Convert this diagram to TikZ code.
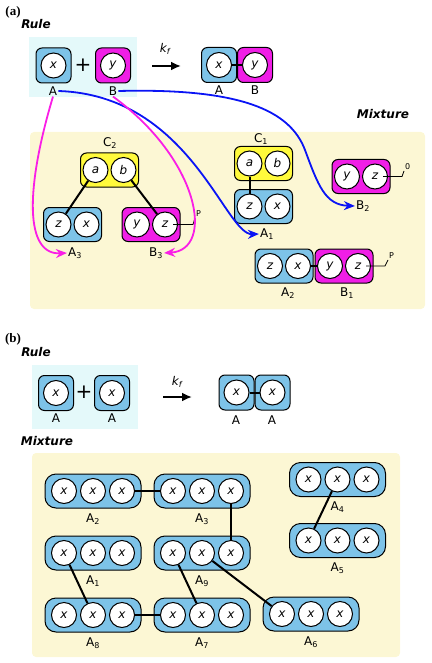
\documentclass[tikz,border=0pt]{standalone}
\usepackage{fontspec}
\setmainfont{DejaVu Sans}
\newfontfamily\panelfont{Liberation Serif}
\usetikzlibrary{arrows.meta}
\definecolor{molblue}{RGB}{125,195,232}
\definecolor{molpink}{RGB}{240,30,230}
\definecolor{molyellow}{RGB}{255,250,60}
\definecolor{mixbg}{RGB}{252,247,212}
\definecolor{rulebg}{RGB}{228,249,250}
\definecolor{linkblue}{RGB}{10,20,245}
\definecolor{linkpink}{RGB}{250,30,230}
\tikzset{
	site/.style={
		circle,
		draw,
		fill=white,
		line width=1pt,
		minimum size=25pt,
		inner sep=0pt,
		font=\fontsize{12}{12}\selectfont\itshape
	},
	mol/.style={draw, rounded corners=6pt, line width=1pt, minimum width=35pt, minimum height=35pt, inner sep=0pt},
	dimol/.style={mol, minimum width=58pt, minimum height=34pt},
	trimol/.style={mol, rounded corners=11pt, minimum width=96pt, minimum height=34pt},
	lab/.style={font=\fontsize{12}{12}\selectfont, inner sep=1pt},
	tiny/.style={font=\fontsize{8}{8}\selectfont, inner sep=1pt},
	bond/.style={line width=2pt},
	tail/.style={line width=0.8pt},
	heading/.style={font=\fontsize{12}{12}\selectfont\bfseries\itshape},
	panel/.style={font=\fontsize{13}{13}\selectfont\panelfont\bfseries},
	react/.style={line width=2pt, -{Latex[length=10pt,width=9pt]}},
	flow/.style={line width=1.8pt, -{Stealth[length=11pt,width=9pt]}}
}

\begin{document}
\begin{tikzpicture}[x=1pt,y=-1pt]
	\useasboundingbox (0,0) rectangle (431,663);
	
	% (a) rule
	\node[panel] (pa) at (13,12) {(a)};
	\node[heading] (rulea) at (36,24) {Rule};
	\fill[rulebg] (29,37) rectangle (137,97);
	\node[mol,fill=molblue] (ra) at (53.5,65.5) {};
	\node[site] (rax) at (ra) {x};
	\node[lab] (ral) at (53,91) {A};
	\node[font=\fontsize{20}{20}\selectfont] (plusa) at (83,65) {+};
	\node[mol,fill=molpink] (rb) at (113,65.5) {};
	\node[site] (rby) at (rb) {y};
	\node[lab] (rbl) at (113,91) {B};
	\coordinate (arra1) at (152,66);
	\coordinate (arra2) at (181,66);
	\draw[react] (arra1) -- (arra2);
	\node[lab] (kfa) at (165,49) {\itshape k\textsubscript{f}};
	\node[mol,fill=molblue] (pa1) at (219,65) {};
	\node[site] (pax) at (pa1) {x};
	\node[lab] (pal) at (219,90) {A};
	\node[mol,fill=molpink] (pb1) at (255,65) {};
	\node[site] (pby) at (pb1) {y};
	\node[lab] (pbl) at (255,90) {B};
	\draw[bond] (pax) -- (pby);
	
	% (a) mixture
	\node[heading] (mixa) at (383,114) {Mixture};
	\fill[mixbg,rounded corners=4pt] (30,132) rectangle (425,309);
	% C2, A3, B3
	\node[dimol,fill=molyellow] (c2) at (109.5,170) {};
	\node[site] (c2a) at ([xshift=-14pt]c2.center) {a};
	\node[site] (c2b) at ([xshift=14pt]c2.center) {b};
	\node[lab] (c2l) at (110,143) {C\textsubscript{2}};
	\node[dimol,fill=molblue] (a3) at (72.5,224.5) {};
	\node[site] (a3z) at ([xshift=-14pt]a3.center) {z};
	\node[site] (a3x) at ([xshift=14pt]a3.center) {x};
	\node[lab] (a3l) at (75,253) {A\textsubscript{3}};
	\node[dimol,fill=molpink] (b3) at (151,224.5) {};
	\node[site] (b3y) at ([xshift=-14pt]b3.center) {y};
	\node[site] (b3z) at ([xshift=14pt]b3.center) {z};
	\node[lab] (b3l) at (156,253) {B\textsubscript{3}};
	\draw[bond] (c2a) -- (a3z);
	\draw[bond] (c2b) -- (b3z);
	\coordinate (b3t) at ([xshift=8pt]b3z.center);
	\node[tiny,anchor=south west] (b3p) at (195,218) {P};
	\draw[tail] (b3t) -- (193,224.5) -- (b3p.south west);
	% C1, A1
	\node[dimol,fill=molyellow] (c1) at (263.5,163.5) {};
	\node[site] (c1a) at ([xshift=-14pt]c1.center) {a};
	\node[site] (c1b) at ([xshift=14pt]c1.center) {b};
	\node[lab] (c1l) at (261,139) {C\textsubscript{1}};
	\node[dimol,fill=molblue] (a1) at (263.5,206.5) {};
	\node[site] (a1z) at ([xshift=-14pt]a1.center) {z};
	\node[site] (a1x) at ([xshift=14pt]a1.center) {x};
	\node[lab] (a1l) at (267,234) {A\textsubscript{1}};
	\draw[bond] (c1a) -- (a1z);
	% B2
	\node[dimol,fill=molpink] (b2) at (361,176.5) {};
	\node[site] (b2y) at ([xshift=-14pt]b2.center) {y};
	\node[site] (b2z) at ([xshift=14pt]b2.center) {z};
	\node[lab] (b2l) at (363,206) {B\textsubscript{2}};
	\coordinate (b2t) at ([xshift=8pt]b2z.center);
	\node[tiny,anchor=south west] (b2o) at (404,171) {0};
	\draw[tail] (b2t) -- (402,176.5) -- (b2o.south west);
	% A2, B1
	\node[dimol,fill=molblue] (a2) at (284,266) {};
	\node[site] (a2z) at ([xshift=-14pt]a2.center) {z};
	\node[site] (a2x) at ([xshift=14pt]a2.center) {x};
	\node[lab] (a2l) at (288,293) {A\textsubscript{2}};
	\node[dimol,fill=molpink] (b1) at (344,266) {};
	\node[site] (b1y) at ([xshift=-14pt]b1.center) {y};
	\node[site] (b1z) at ([xshift=14pt]b1.center) {z};
	\node[lab] (b1l) at (347,293) {B\textsubscript{1}};
	\draw[bond] (a2x) -- (b1y);
	\coordinate (b1t) at ([xshift=8pt]b1z.center);
	\node[tiny,anchor=south west] (b1p) at (388,260) {P};
	\draw[tail] (b1t) -- (385,266) -- (b1p.south west);
	
	% where the rule's reactants go
	\draw[flow,linkblue] (ral.east) .. controls (190,95) and (225,235) .. (a1l.west);
	\draw[flow,linkblue] (rbl.east) .. controls (240,88) and (290,110) .. (305,150)
		.. controls (318,185) and (325,205) .. (b2l.west);
	\draw[flow,linkpink] (ral.south) .. controls (25,190) and (25,255) .. (a3l.west);
	\draw[flow,linkpink] (rbl.south) .. controls (200,160) and (215,250) .. (b3l.east);
	
	% (b) rule
	\node[panel] (pb) at (13,339) {(b)};
	\node[heading] (ruleb) at (36,352) {Rule};
	\fill[rulebg] (32,365) rectangle (138,429);
	\node[mol,fill=molblue] (rba) at (56,393) {};
	\node[site] (rbax) at (rba) {x};
	\node[lab] (rbal) at (56,418) {A};
	\node[font=\fontsize{20}{20}\selectfont] (plusb) at (84,392) {+};
	\node[mol,fill=molblue] (rbb) at (112,393) {};
	\node[site] (rbbx) at (rbb) {x};
	\node[lab] (rbbl) at (112,418) {A};
	\coordinate (arrb1) at (163,397);
	\coordinate (arrb2) at (192,397);
	\draw[react] (arrb1) -- (arrb2);
	\node[lab] (kfb) at (177,382) {\itshape k\textsubscript{f}};
	\node[mol,fill=molblue] (pba) at (236.5,392.5) {};
	\node[site] (pbax) at (pba) {x};
	\node[lab] (pbal) at (236,420) {A};
	\node[mol,fill=molblue] (pbb) at (272.5,392.5) {};
	\node[site] (pbbx) at (pbb) {x};
	\node[lab] (pbbl) at (272,420) {A};
	\draw[bond] (pbax) -- (pbbx);
	
	% (b) mixture
	\node[heading] (mixb) at (47,441) {Mixture};
	\fill[mixbg,rounded corners=4pt] (32,453) rectangle (400,657);
	\foreach \m/\px/\py in {2/93/491,3/202/491,1/93/553,9/202/553,8/93/615,7/202/615,4/337.5/479.5,5/337.5/540.5,6/311/614}{
		\node[trimol,fill=molblue] (bA\m) at (\px,\py) {};
		\foreach \s/\dx in {1/-29,2/0,3/29}
			\node[site] (bA\m-\s) at ([xshift=\dx pt]bA\m.center) {x};
		\node[lab] (bA\m-l) at ([yshift=-28pt]bA\m.center) {A\textsubscript{\m}};
	}
	\draw[bond] (bA2-3) -- (bA3-1);
	\draw[bond] (bA3-3) -- (bA9-3);
	\draw[bond] (bA1-1) -- (bA8-2);
	\draw[bond] (bA9-1) -- (bA7-2);
	\draw[bond] (bA9-2) -- (bA6-1);
	\draw[bond] (bA8-3) -- (bA7-1);
	\draw[bond] (bA4-2) -- (bA5-1);
\end{tikzpicture}
\end{document}
